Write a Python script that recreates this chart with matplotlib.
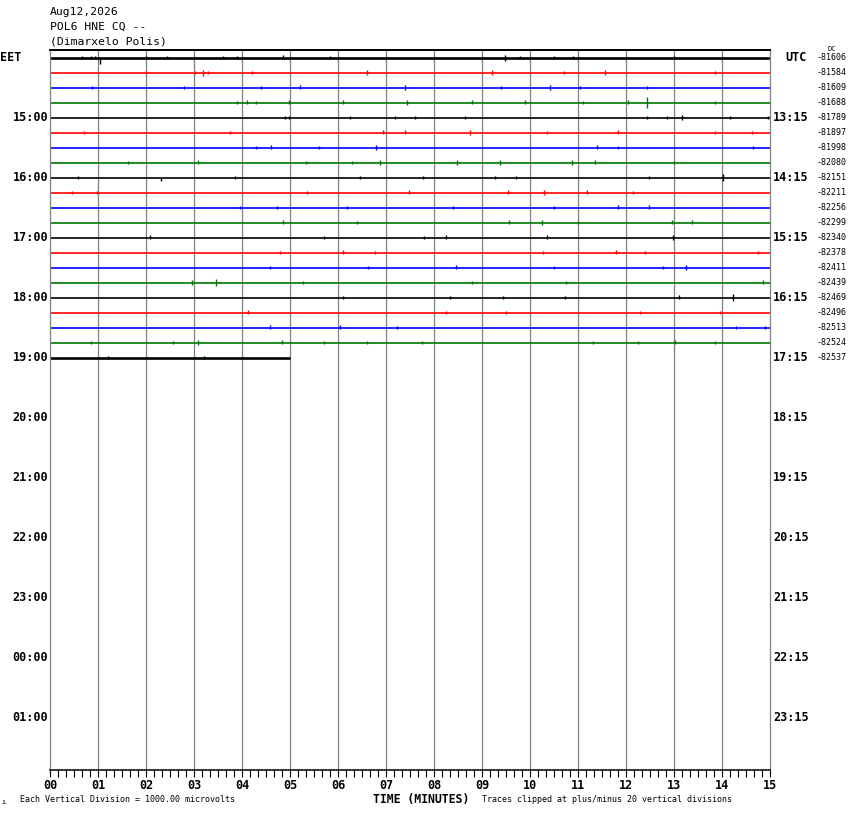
import matplotlib.pyplot as plt
from matplotlib.ticker import MultipleLocator

HEADER = ["Aug12,2026", "POL6 HNE CQ --", "(Dimarxelo Polis)"]
TRACE_COLORS = ["black", "red", "blue", "#007800"]
N_ROWS = 48
LAST_ROW_END = 5.0  # minutes recorded on the last (partial) line

LEFT_LABELS = ["15:00", "16:00", "17:00", "18:00", "19:00", "20:00",
               "21:00", "22:00", "23:00", "00:00", "01:00"]
RIGHT_LABELS = ["13:15", "14:15", "15:15", "16:15", "17:15", "18:15",
                "19:15", "20:15", "21:15", "22:15", "23:15"]
DC_OFFSETS = [-81606, -81584, -81609, -81688, -81789, -81897, -81998,
              -82080, -82151, -82211, -82256, -82299, -82340, -82378,
              -82411, -82439, -82469, -82496, -82513, -82524, -82537]
MINUTE_LABELS = [f"{m:02d}" for m in range(16)]

# (minute, up, down) excursions of each trace, in trace-spacing units
SPIKES = [
    [(0.66, .1, .1), (0.85, .1, .1), (0.94, .1, .1), (1.04, 0, .45), (2.0, .1, .1),
     (2.43, .1, .1), (3.6, .1, .1), (3.9, .1, .1), (4.86, .15, .1), (5.83, .13, .13),
     (9.48, .2, .2), (9.8, .1, .1), (10.5, .1, .1), (10.9, .1, .1), (13.0, .1, .1)],
    [(2.01, .1, .1), (3.02, .1, .1), (3.18, .2, .2), (3.3, .1, .1), (4.2, .1, .1),
     (6.6, .15, .15), (9.2, .15, .15), (10.7, .12, .12), (11.56, .15, .15), (13.85, .12, .12)],
    [(0.87, .1, .1), (2.8, .1, .1), (4.4, .1, .1), (5.2, .15, .1), (7.4, .15, .15),
     (9.4, .1, .1), (10.42, .15, .15), (11.04, .1, .1), (12.43, .1, .1)],
    [(3.9, .1, .1), (4.1, .15, .1), (4.3, .1, .1), (4.97, .15, .1), (6.1, .15, .1),
     (7.43, .15, .15), (8.8, .15, .1), (9.9, .15, .1), (11.1, .13, .13), (12.05, .2, .1),
     (12.44, .35, .35), (13.85, .12, .1)],
    [(4.9, .1, .1), (4.97, .12, .12), (6.24, .1, .1), (7.19, .1, .1), (7.6, .1, .1),
     (8.65, .12, .12), (12.43, .1, .1), (12.85, .1, .1), (13.16, .15, .15), (14.17, .1, .1),
     (14.96, .12, .12)],
    [(0.7, .1, .1), (3.75, .12, .12), (6.93, .15, .1), (7.4, .15, .1), (8.75, .2, .15),
     (10.35, .12, .12), (11.84, .15, .12), (13.85, .13, .13), (14.62, .13, .13)],
    [(4.3, .1, .1), (4.6, .15, .1), (5.6, .1, .1), (6.8, .15, .15), (11.4, .15, .1),
     (11.84, .1, .1), (14.65, .1, .1)],
    [(1.63, .1, .1), (3.09, .15, .1), (5.33, .1, .1), (6.3, .1, .1), (6.88, .2, .15),
     (8.47, .15, .15), (9.38, .15, .15), (10.87, .2, .15), (11.35, .15, .1), (13.0, .12, .12)],
    [(0.59, .1, .1), (2.31, 0, .2), (3.85, .1, .1), (6.46, .1, .1), (7.78, .12, .1),
     (9.27, .1, .1), (9.7, .12, .12), (12.47, .12, .12), (14.03, .25, .25)],
    [(0.45, .1, .1), (0.97, .1, .1), (5.35, .1, .1), (7.47, .15, .1), (9.55, .2, .12),
     (10.3, .15, .15), (11.18, .15, .1), (12.15, .1, .1)],
    [(3.96, .1, .1), (4.72, .1, .1), (6.18, .12, .12), (8.4, .12, .12), (10.49, .1, .1),
     (11.84, .15, .1), (12.47, .15, .1)],
    [(4.86, .15, .1), (6.39, .1, .1), (9.57, .15, .1), (10.24, .15, .15), (11.0, .1, .1),
     (12.95, .15, .1), (13.37, .15, .12)],
    [(2.08, .15, .1), (5.7, .1, .1), (7.8, .1, .1), (8.25, .15, .1), (10.35, .15, .1),
     (12.98, .15, .15)],
    [(4.8, .1, .1), (6.1, .15, .12), (6.77, .1, .1), (10.28, .12, .12), (11.8, .15, .1),
     (12.4, .12, .1), (14.76, .12, .1)],
    [(4.58, .1, .1), (6.63, .12, .12), (8.45, .15, .12), (10.5, .1, .1), (12.78, .12, .1),
     (13.26, .2, .15)],
    [(2.95, .15, .15), (3.45, .22, .22), (5.28, .1, .1), (8.8, .1, .1), (10.76, .1, .1),
     (14.85, .15, .12)],
    [(6.1, .1, .1), (8.33, .1, .1), (9.44, .1, .1), (10.73, .1, .1), (13.1, .15, .12),
     (14.22, .22, .22)],
    [(4.13, .15, .1), (8.26, .1, .1), (9.5, .1, .1), (12.3, .1, .1), (13.96, .12, .1)],
    [(4.58, .15, .1), (6.04, .15, .1), (7.22, .12, .1), (14.3, .1, .1), (14.9, .12, .1)],
    [(0.85, .12, .12), (2.57, .12, .1), (3.08, .2, .15), (4.83, .15, .12), (5.7, .1, .1),
     (6.6, .1, .1), (7.74, .1, .1), (11.32, .12, .1), (12.26, .12, .1), (13.02, .2, .12),
     (13.85, .12, .1)],
    [(1.2, .12, .1), (3.2, .1, .1)],
]

W, H = 850, 814


def fx(px):
    return px / W


def fy(py):
    return 1 - py / H


def main():
    mono = "DejaVu Sans Mono"
    fig = plt.figure(figsize=(W / 100, H / 100), dpi=100)
    ax = fig.add_axes([fx(50), fy(770), fx(720), 720 / H])
    ax.set_xlim(0, 15)
    ax.set_ylim(N_ROWS - 0.5, -0.5)

    for m in range(1, 15):
        ax.axvline(m, color="#808080", lw=0.9, zorder=1)

    n_full = len(SPIKES)
    for row, spikes in enumerate(SPIKES):
        color = TRACE_COLORS[row % 4]
        end = LAST_ROW_END if row == n_full - 1 else 15.0
        lw = 1.9 if row in (0, n_full - 1) else 1.2
        ax.plot([0, end], [row, row], color=color, lw=lw, zorder=2,
                solid_capstyle="butt")
        mins = [s[0] for s in spikes]
        tops = [row - s[1] for s in spikes]
        bots = [row + s[2] for s in spikes]
        ax.vlines(mins, tops, bots, color=color, lw=1.0, zorder=2)

    for side in ("left", "right"):
        ax.spines[side].set_color("#808080")
        ax.spines[side].set_linewidth(0.9)
    ax.spines["top"].set_linewidth(1.4)
    ax.spines["bottom"].set_linewidth(1.1)

    ax.set_yticks([])
    ax.xaxis.set_minor_locator(MultipleLocator(1 / 6))
    ax.tick_params(axis="x", which="both", direction="out", length=5,
                   width=0.8, color="black")
    ax.set_xticks(range(16))
    ax.set_xticklabels(MINUTE_LABELS, fontfamily=mono, fontweight="bold",
                       fontsize=8.5)
    ax.tick_params(axis="x", which="major", pad=1.5)

    ytr = ax.get_yaxis_transform()
    ax.text(-50 / 720, 0, "EET", transform=ytr, ha="left", va="center",
            fontfamily=mono, fontweight="bold", fontsize=8.5)
    ax.text(1 + 15 / 720, 0, "UTC", transform=ytr, ha="left", va="center",
            fontfamily=mono, fontweight="bold", fontsize=8.5)
    for i, (lab_l, lab_r) in enumerate(zip(LEFT_LABELS, RIGHT_LABELS)):
        row = 4 * (i + 1)
        ax.text(-2 / 720, row, lab_l, transform=ytr, ha="right", va="center",
                fontfamily=mono, fontweight="bold", fontsize=8.5)
        ax.text(1 + 3 / 720, row, lab_r, transform=ytr, ha="left", va="center",
                fontfamily=mono, fontweight="bold", fontsize=8.5)
    for row, dc in enumerate(DC_OFFSETS):
        ax.text(1 + 47 / 720, row, str(dc), transform=ytr, ha="left",
                va="center", fontfamily=mono, fontsize=6)
    fig.text(fx(827), fy(49), "DC", fontfamily=mono, fontsize=5,
             ha="left", va="center")

    for i, line in enumerate(HEADER):
        fig.text(fx(50), fy(12 + 14.5 * i), line, fontfamily=mono,
                 fontsize=8.2, ha="left", va="center")

    fig.text(fx(421), fy(799), "TIME (MINUTES)", fontfamily=mono,
             fontweight="bold", fontsize=8.3, ha="center", va="center")
    fig.text(fx(20), fy(800), "Each Vertical Division = 1000.00 microvolts",
             fontfamily=mono, fontsize=6, ha="left", va="center")
    fig.text(fx(482), fy(800),
             "Traces clipped at plus/minus 20 vertical divisions",
             fontfamily=mono, fontsize=6, ha="left", va="center")
    fig.text(fx(2), fy(802), "JL", fontfamily=mono, fontsize=3.5,
             ha="left", va="center")

    fig.savefig("out.png", dpi=100, facecolor="white")
    plt.close(fig)


if __name__ == "__main__":
    main()
